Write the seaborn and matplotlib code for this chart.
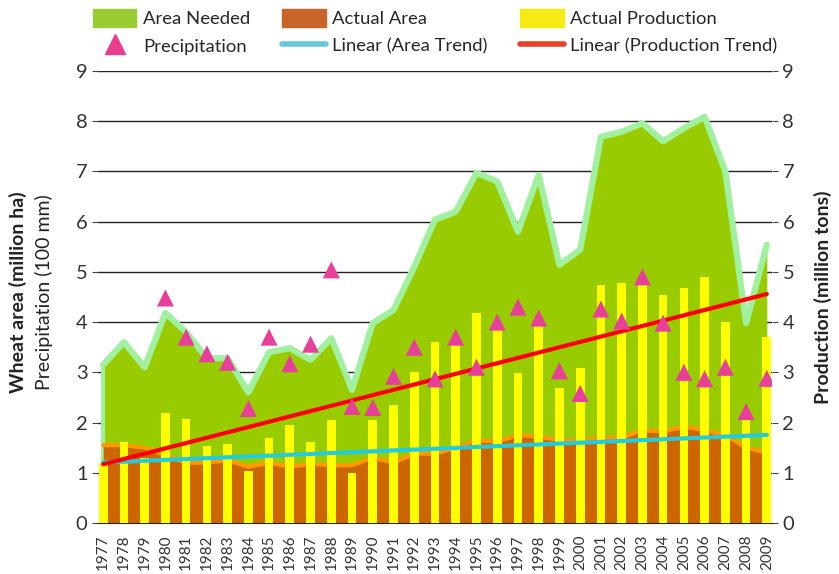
import numpy as np
import pandas as pd
import matplotlib
matplotlib.use("Agg")
import matplotlib.pyplot as plt
import seaborn as sns
from matplotlib.patches import Patch
from matplotlib.lines import Line2D

# Data
years = list(range(1977, 2010))
area_needed = [3.15, 3.6, 3.1, 4.18, 3.8, 3.28, 3.28, 2.6, 3.4, 3.48, 3.25, 3.68,
               2.65, 3.98, 4.24, 5.1, 6.04, 6.2, 6.97, 6.8, 5.8, 6.93, 5.14, 5.44,
               7.69, 7.79, 7.96, 7.6, 7.86, 8.09, 7.0, 3.98, 5.54]
actual_area = [1.55, 1.55, 1.5, 1.35, 1.2, 1.2, 1.25, 1.12, 1.2, 1.12, 1.18, 1.15,
               1.15, 1.3, 1.2, 1.38, 1.38, 1.5, 1.65, 1.62, 1.75, 1.72, 1.65, 1.65,
               1.7, 1.7, 1.85, 1.82, 1.92, 1.85, 1.75, 1.5, 1.4]
production = [1.2, 1.62, 1.3, 2.2, 2.07, 1.53, 1.57, 1.04, 1.69, 1.95, 1.62, 2.05,
              1.0, 2.05, 2.35, 3.0, 3.6, 3.58, 4.18, 3.9, 2.98, 3.98, 2.68, 3.08,
              4.74, 4.78, 4.85, 4.54, 4.68, 4.9, 4.0, 2.1, 3.7]
# precipitation has no values for 1977-1979
precip = [np.nan, np.nan, np.nan, 4.48, 3.7, 3.37, 3.2, 2.28, 3.7, 3.17, 3.56, 5.04,
          2.32, 2.3, 2.92, 3.5, 2.87, 3.7, 3.1, 4.0, 4.3, 4.08, 3.03, 2.58,
          4.26, 4.02, 4.9, 3.98, 3.0, 2.87, 3.1, 2.22, 2.88]

df = pd.DataFrame({"year": years, "needed": area_needed, "area": actual_area,
                   "prod": production, "precip": precip})

# linear trend lines, like the Excel "Linear" trendline
pa = np.polyfit(df["year"], df["area"], 1)
pp = np.polyfit(df["year"], df["prod"], 1)
df["area_trend"] = np.polyval(pa, df["year"])
df["prod_trend"] = np.polyval(pp, df["year"])

sns.set_style("white")
plt.rcParams["font.family"] = ["Lato", "DejaVu Sans"]

fig = plt.figure(figsize=(8.39, 5.74), dpi=100)
ax = fig.add_axes([98 / 839, 1 - 523 / 574, (772 - 98) / 839, (523 - 71) / 574])

# areas
ax.fill_between(df["year"], 0, df["needed"], color="#99cc00", zorder=1, linewidth=0)
ax.plot(df["year"], df["needed"], color="#a0f0a0", lw=4.5, zorder=1.5, solid_joinstyle="round")
ax.plot([1977, 1977], [0, area_needed[0]], color="#a0f0a0", lw=3, zorder=1.5)
ax.fill_between(df["year"], 0, df["area"], color="#cc6600", zorder=2, linewidth=0)
ax.plot(df["year"], df["area"], color="#ff9900", lw=3, zorder=2.5)

# production bars
sns.barplot(data=df, x="year", y="prod", native_scale=True, width=0.42,
            color="#ffff00", saturation=1, ax=ax, zorder=3, linewidth=0)

# trend lines
sns.lineplot(data=df, x="year", y="area_trend", color="#22ccdd", lw=3, ax=ax, zorder=4)
sns.lineplot(data=df, x="year", y="prod_trend", color="#ff0000", lw=3, ax=ax, zorder=4)

# precipitation
sns.scatterplot(data=df.dropna(), x="year", y="precip", marker="^", s=150,
                color="#e8409a", edgecolor="none", ax=ax, zorder=5)

ax.set_xlim(1976.75, 2009.25)
ax.set_ylim(0, 9)
ax.set_yticks(range(10))
ax.set_xticks(years)
ax.set_xticklabels([str(y) for y in years], rotation=90, fontsize=11, color="#333333")
ax.tick_params(axis="x", length=6, color="#777777", pad=2)
ax.tick_params(axis="y", length=4, color="#444444", labelsize=14.5, labelcolor="#333333", left=True)
ax.yaxis.grid(True, color="#222222", lw=1)
for g in ax.get_ygridlines():
    g.set_zorder(2.8)
for s in ["top", "left", "right"]:
    ax.spines[s].set_visible(False)
ax.spines["bottom"].set_color("#222222")
ax.set_xlabel("")
ax.set_ylabel("")

ax2 = ax.twinx()
ax2.set_ylim(0, 9)
ax2.set_yticks(range(10))
ax2.tick_params(axis="y", length=4, color="#444444", labelsize=14.5, labelcolor="#333333", right=True)
for s in ["top", "left", "right", "bottom"]:
    ax2.spines[s].set_visible(False)
ax2.set_ylabel("Production (million tons)", fontsize=14, fontweight="bold", color="#222222", labelpad=14)

fig.text(18 / 839, 1 - 292 / 574, "Wheat area (million ha)", rotation=90, fontsize=14,
         fontweight="bold", color="#222222", ha="center", va="center")
fig.text(44 / 839, 1 - 292 / 574, "Precipitation (100 mm)", rotation=90, fontsize=14,
         color="#222222", ha="center", va="center")

handles = [Patch(color="#99cc33"), Line2D([], [], marker="^", ls="none", color="#e83e8c", markersize=15),
           Patch(color="#c8642a"), Line2D([], [], color="#66c8d8", lw=4),
           Patch(color="#f5ea14"), Line2D([], [], color="#e84028", lw=4)]
labels = ["Area Needed", "Precipitation", "Actual Area", "Linear (Area Trend)",
          "Actual Production", "Linear (Production Trend)"]
fig.legend(handles, labels, ncol=3, loc="upper left", bbox_to_anchor=(93 / 839, 1 - 9 / 574),
           frameon=False, fontsize=13.3, handlelength=2.35, handleheight=1.1,
           columnspacing=1.75, labelspacing=0.5, borderaxespad=0, borderpad=0,
           handletextpad=0.35)

fig.savefig("out.png", dpi=100)
